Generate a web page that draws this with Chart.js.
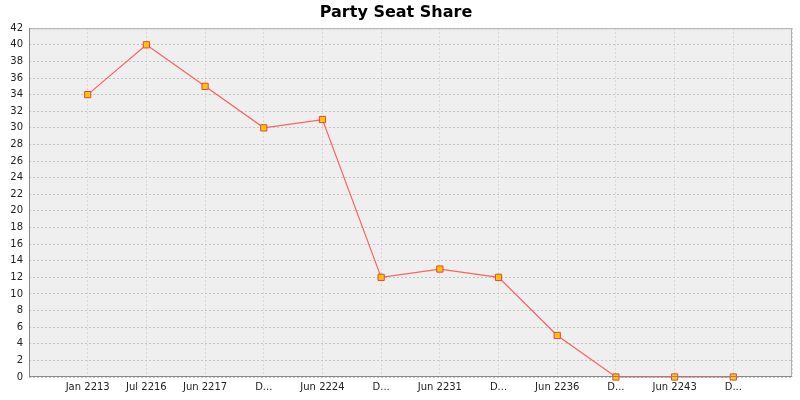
<!DOCTYPE html>
<html>
<head>
<meta charset="utf-8">
<script src="https://cdn.jsdelivr.net/npm/chart.js@4/dist/chart.umd.min.js"></script>
<style>
html,body{margin:0;padding:0;background:#fff;}
#wrap{width:800px;height:400px;}
</style>
</head>
<body>
<div id="wrap"><canvas id="c" width="800" height="400"></canvas></div>
<script>
const categories = ['Jan 2213','Jul 2216','Jun 2217','D...','Jun 2224','D...','Jun 2231','D...','Jun 2236','D...','Jun 2243','D...'];
const seatShare = [34, 40, 35, 30, 31, 12, 13, 12, 5, 0, 0, 0];
const yMin = 0, yMax = 42, yStep = 2;

const plotBg = {
  id: 'plotBg',
  beforeDraw(chart) {
    const {ctx, chartArea: a} = chart;
    ctx.save();
    ctx.fillStyle = '#efefef';
    ctx.fillRect(a.left, a.top, a.right - a.left, a.bottom - a.top);
    ctx.restore();
  },
  afterDatasetsDraw(chart) {
    const {ctx, chartArea: a} = chart;
    ctx.save();
    ctx.strokeStyle = '#b0b0b0';
    ctx.lineWidth = 1;
    ctx.strokeRect(a.left + 0.5, a.top + 0.5, a.right - a.left - 1, a.bottom - a.top - 1);
    ctx.strokeStyle = '#888888';
    ctx.beginPath();
    ctx.moveTo(a.left + 0.5, a.top); ctx.lineTo(a.left + 0.5, a.bottom);
    ctx.moveTo(a.left, a.bottom - 0.5); ctx.lineTo(a.right, a.bottom - 0.5);
    ctx.stroke();
    ctx.restore();
  }
};

new Chart(document.getElementById('c'), {
  type: 'line',
  data: {
    datasets: [{
      data: seatShare.map((v, i) => ({x: i + 1, y: v})),
      borderColor: '#ff6060',
      borderWidth: 1.2,
      pointStyle: 'rect',
      pointRadius: 4.4,
      pointHoverRadius: 4.4,
      pointBackgroundColor: '#ffc800',
      pointBorderColor: '#e8453c',
      pointBorderWidth: 1,
      tension: 0,
      clip: false
    }]
  },
  options: {
    responsive: false,
    animation: false,
    layout: {padding: {left: 0, right: 8, top: 0, bottom: 0}},
    plugins: {
      legend: {display: false},
      tooltip: {enabled: false},
      title: {
        display: true,
        text: 'Party Seat Share',
        color: '#000',
        font: {family: 'DejaVu Sans', size: 16, weight: 'bold', lineHeight: 1.2},
        padding: {top: 3, bottom: 6}
      }
    },
    scales: {
      x: {
        type: 'linear',
        min: 0,
        max: categories.length + 1,
        afterFit(s) { s.height = 23; },
        afterBuildTicks(s) {
          s.ticks = [];
          for (let i = 0; i <= categories.length + 1; i++) s.ticks.push({value: i});
        },
        ticks: {
          autoSkip: false,
          maxRotation: 0,
          padding: 4,
          color: '#222',
          font: {family: 'DejaVu Sans', size: 10},
          callback: (v) => categories[v - 1] ?? ''
        },
        grid: {
          color: '#d6d6d6',
          lineWidth: 1,
          drawTicks: false
        },
        border: {display: false, dash: [2, 2]}
      },
      y: {
        min: yMin,
        max: yMax,
        afterFit(s) { s.width = 29; },
        ticks: {
          stepSize: yStep,
          padding: 6,
          color: '#222',
          font: {family: 'DejaVu Sans', size: 10}
        },
        grid: {
          color: '#c4c4c4',
          lineWidth: 1,
          drawTicks: false
        },
        border: {display: false, dash: [2, 2]}
      }
    }
  },
  plugins: [plotBg]
});
</script>
</body>
</html>
